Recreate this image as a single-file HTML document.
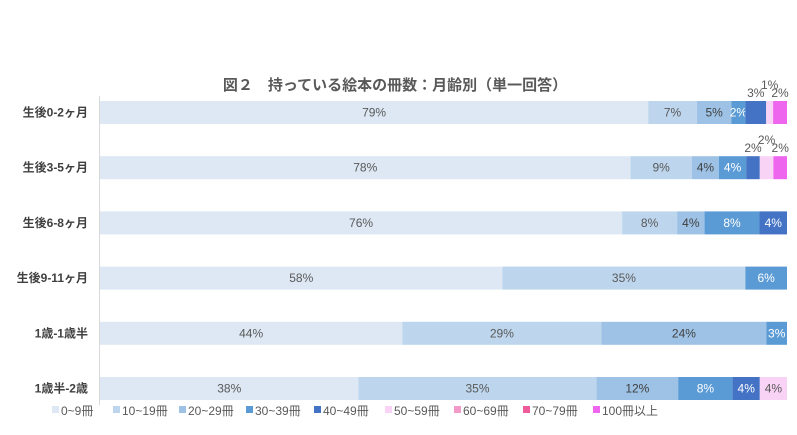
<!DOCTYPE html>
<html><head><meta charset="utf-8">
<style>
html,body{margin:0;padding:0;background:#fff;}
body{width:797px;height:430px;overflow:hidden;font-family:"Liberation Sans","Noto Sans CJK JP",sans-serif;}
svg text{font-family:"Liberation Sans","Noto Sans CJK JP",sans-serif;}
</style></head>
<body>
<svg id="chart" width="797" height="430">
<text x="395" y="90" text-anchor="middle" font-size="15" font-weight="bold" fill="#595959">図２　持っている絵本の冊数：月齢別（単一回答）</text>
<line x1="99.5" y1="96" x2="99.5" y2="405" stroke="#d9d9d9"/>
</svg>
<script>
const categories = ["生後0-2ヶ月","生後3-5ヶ月","生後6-8ヶ月","生後9-11ヶ月","1歳-1歳半","1歳半-2歳"];
const seriesNames = ["0~9冊","10~19冊","20~29冊","30~39冊","40~49冊","50~59冊","60~69冊","70~79冊","100冊以上"];
const s0 = [79,78,76,58,44,38];
const s1 = [7,9,8,35,29,35];
const s2 = [5,4,4,0,24,12];
const s3 = [2,4,8,6,3,8];
const s4 = [3,2,4,0,0,4];
const s5 = [1,2,0,0,0,4];
const s6 = [0,0,0,0,0,0];
const s7 = [0,0,0,0,0,0];
const s8 = [2,2,0,0,0,0];
const series = [s0,s1,s2,s3,s4,s5,s6,s7,s8];
const colors = ["#dde8f4","#bed6ed","#9dc2e5","#5b9bd5","#4472c4","#f9d3f6","#f29ac8","#ee5a9a","#ee66ee"];
const textColors = ["#595959","#595959","#404040","#fff","#fff","#595959","#595959","#fff","#fff"];
const NS="http://www.w3.org/2000/svg";
const svg=document.getElementById('chart');
const x0=100, plotW=687, rowTop=101, rowStep=55.2, barH=23;
function xScale(v,total){return v/total*plotW;}
function yBand(i){return rowTop+i*rowStep;}
function mk(tag,attrs){const e=document.createElementNS(NS,tag);for(const k in attrs)e.setAttribute(k,attrs[k]);svg.appendChild(e);return e;}
categories.forEach((c,i)=>{
  const y=yBand(i);
  const t=mk('text',{x:88,y:y+barH/2+4,'text-anchor':'end','font-size':12,'font-weight':'bold',fill:'#404040'});
  t.textContent=c;
  
  
  let total=0;series.forEach(s=>total+=s[i]);
  let x=x0; let aboveIdx=0;
  series.forEach((s,j)=>{
    const v=s[i]; if(!v) return;
    const w=xScale(v,total);
    const r=mk('rect',{x:x,y:y,width:w,height:barH,fill:colors[j]});
    
    
    let lx=x+w/2, ly=y+barH/2+4, fc=textColors[j];
    if(i<2 && j>=4){ly=y-4-(aboveIdx%2?8:0);aboveIdx++;fc='#595959';}
    const lt=mk('text',{x:lx,y:ly,'text-anchor':'middle','font-size':12,fill:fc});
    lt.textContent=v+'%';
    
    
    x+=w;
  });
});
const legX=[52,113,179,246,314,385,454,523,593];
seriesNames.forEach((n,j)=>{
  const g=mk('g',{});
  
  
  const r=document.createElementNS(NS,'rect');
  r.setAttribute('x',legX[j]);r.setAttribute('y',406);r.setAttribute('width',7);r.setAttribute('height',7);r.setAttribute('fill',colors[j]);
  g.appendChild(r);
  const t=document.createElementNS(NS,'text');
  t.setAttribute('x',legX[j]+9);t.setAttribute('y',415);t.setAttribute('font-size',12);t.setAttribute('fill','#595959');
  t.textContent=n;g.appendChild(t);
});
</script>
</body></html>
